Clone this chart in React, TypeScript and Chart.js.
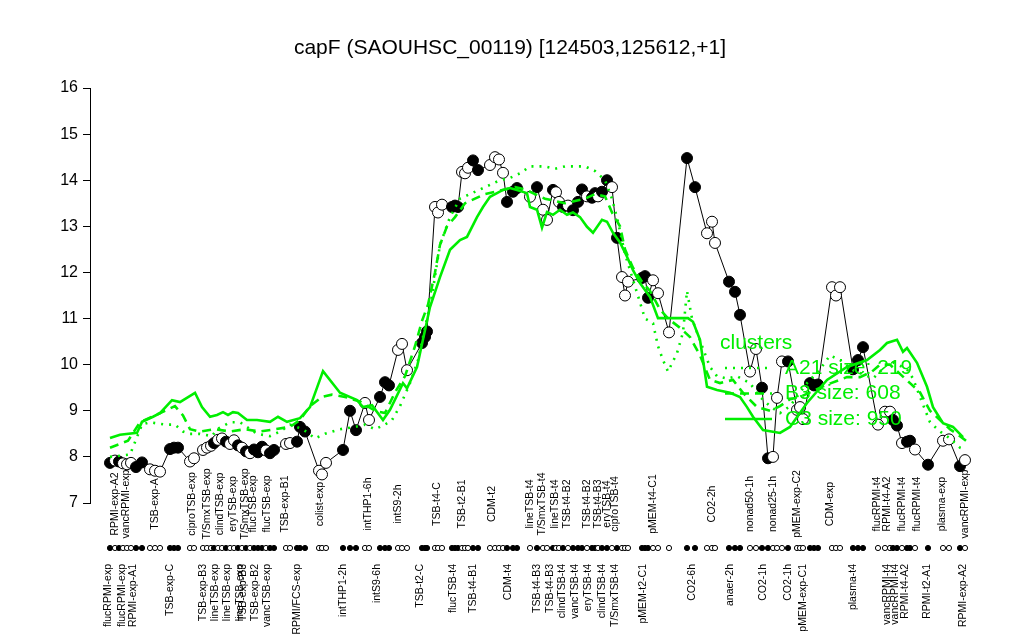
import React, { useEffect, useRef } from "react";
import { Chart, registerables } from "chart.js";

Chart.register(...registerables);

const FONT = '"Liberation Sans", Arial, Helvetica, sans-serif';
const GREEN = "#00ee00";

const chartTitle = "capF (SAOUHSC_00119) [124503,125612,+1]";

// sample positions along the x axis (ordered sample index units)
const samplePos = [
  2, 4.5, 6.5, 8.5, 10.5, 12.5, 15, 18, 22, 24.5, 27, 32, 34, 36, 42, 44, 48.5, 50.5, 52.5, 54,
  56, 58, 60, 62, 64, 66, 68, 70, 72, 74, 76, 78, 80, 82, 84, 90, 92, 95.5, 97, 99.5,
  106.5, 108, 110, 118.5, 122, 125, 129.5, 131.5, 137, 139.5, 141.5, 146, 148, 150.5, 158, 159.5, 160.5, 164.5, 166, 168,
  173, 174.5, 176, 178, 179.5, 181, 183.5, 186, 192, 194.5, 196.5, 198.5, 200.5, 203.5, 205.5, 212, 215.5, 218.5, 220.5, 223.5,
  225, 226.5, 228.5, 231, 233.5, 236, 238, 240.5, 243, 244.5, 246, 248, 250.5, 253, 255.5, 258, 259.5, 261, 268, 269.5,
  271, 273.5, 276, 281.5, 290.5, 294.5, 300.5, 303, 304.5, 311.5, 314.5, 317, 322, 325, 328, 331, 333.5, 335.5, 338, 341,
  345.5, 347, 348.5, 352, 354, 356, 363, 365, 367, 373.5, 376, 378.5, 386, 389.5, 392, 393.5, 395.5, 398, 400.5, 402,
  404.5, 411, 418.5, 421.5, 427, 429.5,
];

// log2 expression per sample
const expression = [
  7.87, 7.92, 7.9, 7.86, 7.84, 7.87, 7.78, 7.88, 7.73, 7.7, 7.68, 8.17, 8.2, 8.2, 7.9, 7.97, 8.15, 8.2, 8.24, 8.3,
  8.37, 8.4, 8.33, 8.28, 8.36, 8.25, 8.2, 8.12, 8.08, 8.16, 8.1, 8.22, 8.14, 8.08, 8.15, 8.28, 8.3, 8.33, 8.65, 8.55,
  7.7, 7.62, 7.87, 8.15, 9.0, 8.58, 9.17, 8.8, 9.3, 9.62, 9.55, 10.32, 10.45, 9.88, 10.47, 10.6, 10.72, 13.42, 13.3, 13.47,
  13.42, 13.45, 13.42, 14.18, 14.15, 14.27, 14.43, 14.22, 14.33, 14.5, 14.45, 14.16, 13.53, 13.75, 13.83, 13.64, 13.85, 13.36, 13.14, 13.79,
  13.74, 13.53, 13.42, 13.45, 13.35, 13.53, 13.8, 13.65, 13.62, 13.72, 13.65, 13.75, 14.0, 13.85, 12.75, 11.9, 11.5, 11.8, 11.88, 11.92,
  11.45, 11.83, 11.55, 10.7, 14.48, 13.85, 12.85, 13.1, 12.64, 11.8, 11.58, 11.08, 9.85, 10.34, 9.5, 7.97, 8.0, 9.28, 10.07, 10.07,
  9.02, 9.08, 8.82, 9.6, 9.55, 9.57, 11.68, 11.5, 11.68, 9.9, 10.1, 10.38, 8.7, 8.98, 8.98, 8.8, 8.68, 8.3, 8.33, 8.35,
  8.16, 7.83, 8.35, 8.38, 7.8, 7.93,
];

// 1 = filled marker, 0 = open marker
const filled = [
  1, 0, 1, 0, 0, 0, 1, 1, 0, 0, 0, 1, 1, 1, 0, 0, 0, 0, 0, 1,
  0, 0, 1, 0, 0, 1, 0, 1, 0, 1, 1, 1, 0, 1, 1, 0, 0, 1, 1, 1,
  0, 0, 0, 1, 1, 1, 0, 0, 1, 1, 1, 0, 0, 0, 1, 1, 1, 0, 0, 0,
  1, 1, 1, 0, 0, 0, 1, 1, 0, 0, 0, 0, 1, 1, 1, 0, 1, 0, 0, 1,
  0, 0, 1, 0, 1, 1, 1, 0, 1, 1, 0, 1, 1, 0, 1, 0, 0, 0, 1, 1,
  1, 0, 0, 0, 1, 1, 0, 0, 0, 1, 1, 1, 0, 0, 1, 1, 0, 0, 0, 1,
  0, 0, 0, 1, 1, 1, 0, 0, 0, 1, 1, 1, 0, 0, 0, 1, 1, 0, 1, 1,
  0, 1, 0, 0, 1, 0,
];

// cluster C3 (solid)
const c3Pos = [
  2, 7, 15.5, 18, 23.5, 27, 33, 37, 44.5, 48, 52, 55.5, 58.5, 61, 63.5, 66, 70.5, 75.5, 82, 86,
  90.5, 97, 102, 108.5, 117, 125.5, 128.5, 133, 138.5, 142, 148.5, 150.5, 155.5, 162, 167, 172, 177, 180.5, 185.5, 188.5,
  192, 195.5, 198.5, 202, 205.5, 210.5, 212, 215.5, 218, 220.5, 223.5, 227, 230.5, 233.5, 237, 240.5, 243.5, 248, 250.5, 253.5,
  257, 260.5, 263.5, 267, 272, 276, 283.5, 291, 293.5, 297, 300.5, 305.5, 312, 317, 320.5, 323.5, 328.5, 337, 342, 350.5,
  360.5, 370.5, 380.5, 387, 390.5, 395.5, 398.5, 400.5, 405.5, 410.5, 413.5, 418.5, 423.5, 428.5,
];
const c3Val = [
  8.41, 8.48, 8.52, 8.76, 8.87, 8.95, 9.23, 9.19, 9.39, 9.08, 8.87, 8.91, 8.97, 8.91, 8.97, 8.95, 8.8, 8.8, 8.76, 8.87,
  8.76, 8.84, 9.08, 9.86, 9.39, 9.23, 9.08, 9.12, 8.8, 9.02, 9.6, 9.49, 9.95, 11.25, 11.9, 12.49, 12.7, 12.77, 13.2, 13.42,
  13.64, 13.72, 13.79, 13.83, 13.79, 13.72, 13.42, 13.36, 12.97, 13.31, 13.25, 13.36, 13.25, 13.3, 13.2, 12.99, 12.86, 13.14, 13.1, 12.86,
  12.65, 12.34, 12.05, 11.77, 11.47, 11.01, 11.01, 11.01, 10.93, 10.54, 9.52, 9.45, 9.39, 9.3, 9.08, 8.87, 8.58, 8.52, 8.65, 9.17,
  9.67, 9.95, 10.1, 10.32, 10.47, 10.54, 10.28, 10.36, 10.04, 9.52, 9.08, 8.73, 8.65, 8.43,
];

// cluster B3 (dashed)
const b3Pos = [
  2, 11, 17, 22, 29.5, 34.5, 38.5, 42, 47, 54.5, 62, 69.5, 77, 84.5, 92, 97, 102, 108, 113, 119.5,
  127, 134.5, 139.5, 144.5, 149.5, 154.5, 158, 161, 164.5, 167, 170.5, 174.5, 179.5, 184.5, 189.5, 194.5, 199.5, 204.5, 209.5, 214.5,
  219.5, 224.5, 229.5, 234.5, 239.5, 244.5, 249.5, 253, 257, 259.5, 263.5, 268, 272, 277, 281, 287, 292, 297, 302, 307,
  313.5, 318.5, 325.5, 332, 337, 342, 347, 352, 359.5, 370.5, 377, 383, 387, 392, 397, 402, 407, 412, 417, 422,
  427, 430,
];
const b3Val = [
  8.2, 8.35, 8.75, 8.85, 9.0, 9.1, 8.9, 8.6, 8.55, 8.6, 8.55, 8.6, 8.55, 8.6, 8.65, 8.8, 9.1, 9.3, 9.35, 9.3,
  9.2, 9.0, 8.95, 9.4, 9.75, 10.4, 10.95, 11.3, 12.0, 12.6, 13.0, 13.2, 13.5, 13.6, 13.7, 13.75, 13.8, 13.85, 13.8, 13.7,
  13.6, 13.55, 13.5, 13.55, 13.6, 13.7, 13.65, 13.3, 13.0, 12.5, 12.1, 11.8, 11.6, 11.2, 11.0, 10.8, 10.6, 10.2, 9.67, 9.6,
  9.67, 9.39, 9.08, 9.0, 9.1, 9.25, 9.3, 9.4, 9.55, 9.73, 9.73, 9.85, 10.0, 10.0, 9.8, 9.6, 9.4, 9.0, 8.8, 8.6,
  8.45, 8.35,
];

// cluster A21 (dotted)
const a21Pos = [
  2, 12, 18, 22, 29.5, 34.5, 38.5, 42, 47, 53, 55.5, 62, 67, 75.5, 82, 87, 92, 98.5, 104.5, 109.5,
  117, 124.5, 129.5, 134.5, 139.5, 143, 147, 152, 156, 159.5, 163, 167, 172, 177, 182, 187, 192, 197, 202, 207,
  212, 219.5, 224.5, 229.5, 234.5, 239.5, 244.5, 249.5, 253, 256, 259.5, 264.5, 269.5, 273.5, 276, 278.5, 281, 285.5, 288.5, 290.5,
  293, 295.5, 298.5, 302, 305.5, 310.5, 315.5, 322, 327, 332, 337, 342, 350.5, 357, 362, 367, 373.5, 383.5, 390.5, 393.5,
  400.5, 403.5, 407, 412, 417, 422, 427, 430,
];
const a21Val = [
  8.0, 8.05, 8.7, 8.75, 8.7, 8.7, 8.55, 8.5, 8.5, 8.45, 8.6, 8.75, 8.75, 8.5, 8.45, 8.55, 8.7, 8.6, 8.4, 8.5,
  8.6, 8.65, 8.7, 8.6, 8.7, 8.8, 9.1, 9.6, 10.1, 10.8, 11.5, 12.6, 13.2, 13.6, 13.7, 13.8, 13.9, 14.0, 14.05, 14.15,
  14.3, 14.3, 14.25, 14.3, 14.3, 14.3, 14.2, 14.0, 13.6, 13.1, 12.4, 11.7, 11.0, 10.9, 10.4, 10.1, 9.85, 10.25, 10.7, 11.6,
  11.0, 10.7, 10.35, 9.95, 9.75, 9.7, 9.75, 9.6, 9.3, 9.1, 8.95, 9.1, 9.6, 9.9, 10.2, 10.1, 9.88, 9.7, 10.0, 10.05,
  9.9, 9.7, 9.3, 8.75, 8.55, 8.4, 8.2, 8.15,
];

const topLabels = [
  "RPMI-exp-A2", "vancRPMI-exp", "TSB-exp-A", "ciproTSB-exp", "T/SmxTSB-exp", "clindTSB-exp", "eryTSB-exp",
  "T/SmxTSB-exp", "flucTSB-exp", "flucTSB-exp", "TSB-exp-B1", "colist-exp", "intTHP1-6h", "intS9-2h", "TSB-t4-C",
  "TSB-t2-B1", "CDM-t2", "lineTSB-t4", "T/SmxTSB-t4", "lineTSB-t4", "TSB-t4-B2", "TSB-t4-B2", "TSB-t4-B3",
  "eryTSB-t4", "ciproTSB-t4", "pMEM-t4-C1", "CO2-2h", "nonad50-1h", "nonad25-1h", "pMEM-exp-C2", "CDM-exp",
  "flucRPMI-t4", "RPMI-t4-A2", "flucRPMI-t4", "flucRPMI-t4", "plasma-exp", "vancRPMI-exp",
];
const topLabelPos = [
  4.5, 10, 24.5, 43, 50.5, 57, 63.5, 69.5, 73.5, 80.5, 89.5, 107, 131, 146, 165.5, 178, 193, 212, 218, 224.5,
  230.5, 240.5, 246, 250.5, 254.5, 273.5, 303, 322, 333.5, 345.5, 362, 385.5, 390.5, 398, 405.5, 418, 429.5,
];

const bottomLabels = [
  "flucRPMI-exp", "flucRPMI-exp", "RPMI-exp-A1", "TSB-exp-C", "TSB-exp-B3", "lineTSB-exp", "lineTSB-exp",
  "lineTSB-exp", "TSB-exp-B3", "TSB-exp-B2", "vancTSB-exp", "RPMI/FCS-exp", "intTHP1-2h", "intS9-6h", "TSB-t2-C",
  "flucTSB-t4", "TSB-t4-B1", "CDM-t4", "TSB-t4-B3", "TSB-t4-B3", "clindTSB-t4", "vancTSB-t4", "eryTSB-t4",
  "clindTSB-t4", "T/SmxTSB-t4", "pMEM-t2-C1", "CO2-6h", "anaer-2h", "CO2-1h", "CO2-1h", "pMEM-exp-C1",
  "plasma-t4", "vancRPMI-t4", "vancRPMI-t4", "RPMI-t4-A2", "RPMI-t2-A1", "RPMI-exp-A2",
];
const bottomLabelPos = [
  1, 8, 13.5, 32, 48.5, 54.5, 60.5, 67, 68.5, 74.5, 80.5, 95.5, 118.5, 135.5, 157, 173.5, 183.5, 201, 215.5, 222,
  228, 234.5, 241, 248, 254.5, 268.5, 293, 312, 328.5, 341, 348.5, 373.5, 390.5, 394.5, 399.5, 410.5, 428.5,
];

const legendTitle = "clusters";
const legendLabels = ["A21 size: 219", "B3 size: 608", "C3 size: 950"];
const legendDash = [[2, 6], [9, 6], []];

const yTicks = [7, 8, 9, 10, 11, 12, 13, 14, 15, 16];

const overlay = {
  id: "overlay",
  beforeDatasetsDraw(chart: any) {
    const ctx = chart.ctx as CanvasRenderingContext2D;
    const xs = chart.scales.x;
    const bottom = chart.chartArea.bottom;
    ctx.save();
    // title
    ctx.fillStyle = "#000";
    ctx.font = `21px ${FONT}`;
    ctx.textAlign = "center";
    ctx.textBaseline = "middle";
    ctx.fillText(chartTitle, 510, 48);

    ctx.font = `10.5px ${FONT}`;
    const rowY = bottom + 45;
    topLabels.forEach((t, i) => {
      const x = xs.getPixelForValue(topLabelPos[i]);
      ctx.save();
      ctx.translate(x, bottom + 1);
      ctx.rotate(-Math.PI / 2);
      ctx.textAlign = "center";
      ctx.textBaseline = "middle";
      ctx.fillText(t, 0, 0);
      ctx.restore();
    });
    bottomLabels.forEach((t, i) => {
      const x = xs.getPixelForValue(bottomLabelPos[i]);
      ctx.save();
      ctx.translate(x, rowY + 16);
      ctx.rotate(-Math.PI / 2);
      ctx.textAlign = "right";
      ctx.textBaseline = "middle";
      ctx.fillText(t, 0, 0);
      ctx.restore();
    });
    // marker row
    ctx.lineWidth = 1;
    ctx.strokeStyle = "#000";
    samplePos.forEach((p, i) => {
      const x = xs.getPixelForValue(p);
      ctx.beginPath();
      ctx.arc(x, rowY, 2.6, 0, Math.PI * 2);
      ctx.fillStyle = filled[i] ? "#000" : "#fff";
      ctx.fill();
      ctx.stroke();
    });
    ctx.restore();
  },
  afterDatasetsDraw(chart: any) {
    const ctx = chart.ctx as CanvasRenderingContext2D;
    ctx.save();
    ctx.fillStyle = GREEN;
    ctx.strokeStyle = GREEN;
    ctx.font = `21px ${FONT}`;
    ctx.textAlign = "left";
    ctx.textBaseline = "middle";
    ctx.fillText(legendTitle, 720, 343);
    legendLabels.forEach((t, i) => {
      const y = 368 + i * 25.5;
      ctx.setLineDash(legendDash[i]);
      ctx.lineWidth = 2.5;
      ctx.beginPath();
      ctx.moveTo(725, y);
      ctx.lineTo(772, y);
      ctx.stroke();
      ctx.setLineDash([]);
      ctx.fillText(t, 785, y);
    });
    ctx.restore();
  },
};

export default function App() {
  const ref = useRef<HTMLCanvasElement>(null);
  useEffect(() => {
    const mainData = samplePos.map((x, i) => ({ x, y: expression[i] }));
    const mk = (xs: number[], ys: number[]) => xs.map((x, i) => ({ x, y: ys[i] }));
    const chart = new Chart(ref.current as HTMLCanvasElement, {
      type: "line",
      data: {
        datasets: [
          {
            label: "C3",
            data: mk(c3Pos, c3Val),
            borderColor: GREEN,
            borderWidth: 2.6,
            pointRadius: 0,
            tension: 0,
            order: 1,
          },
          {
            label: "B3",
            data: mk(b3Pos, b3Val),
            borderColor: GREEN,
            borderWidth: 2.6,
            borderDash: [9, 6],
            pointRadius: 0,
            tension: 0,
            order: 1,
          },
          {
            label: "A21",
            data: mk(a21Pos, a21Val),
            borderColor: GREEN,
            borderWidth: 2.6,
            borderDash: [2, 6],
            pointRadius: 0,
            tension: 0,
            order: 1,
          },
          {
            label: "capF",
            data: mainData,
            borderColor: "#000",
            borderWidth: 1,
            pointRadius: 5.5,
            pointBorderWidth: 1,
            pointBorderColor: "#000",
            pointBackgroundColor: filled.map((f) => (f ? "#000" : "#fff")),
            tension: 0,
            order: 2,
          },
        ],
      },
      options: {
        responsive: false,
        animation: false,
        devicePixelRatio: 1,
        events: [],
        layout: { padding: { top: 88, bottom: 137, left: 0, right: 49 } },
        plugins: { legend: { display: false }, tooltip: { enabled: false }, title: { display: false } },
        scales: {
          x: { type: "linear", display: false, min: -8, max: 434.5 },
          y: {
            type: "linear",
            min: 7,
            max: 16,
            afterFit: (s: any) => {
              s.width = 90;
            },
            afterBuildTicks: (s: any) => {
              s.ticks = yTicks.map((v) => ({ value: v }));
            },
            ticks: {
              color: "#000",
              font: { family: FONT, size: 16 },
              padding: 5,
            },
            grid: {
              display: true,
              drawOnChartArea: false,
              drawTicks: true,
              tickLength: 7,
              color: "#000",
            },
            border: { display: true, color: "#000", width: 1 },
          },
        },
      },
      plugins: [overlay],
    });
    return () => chart.destroy();
  }, []);
  return (
    <div style={{ position: "fixed", left: 0, top: 0, width: 1024, height: 640, background: "#fff" }}>
      <canvas ref={ref} width={1024} height={640} style={{ display: "block" }} />
    </div>
  );
}
